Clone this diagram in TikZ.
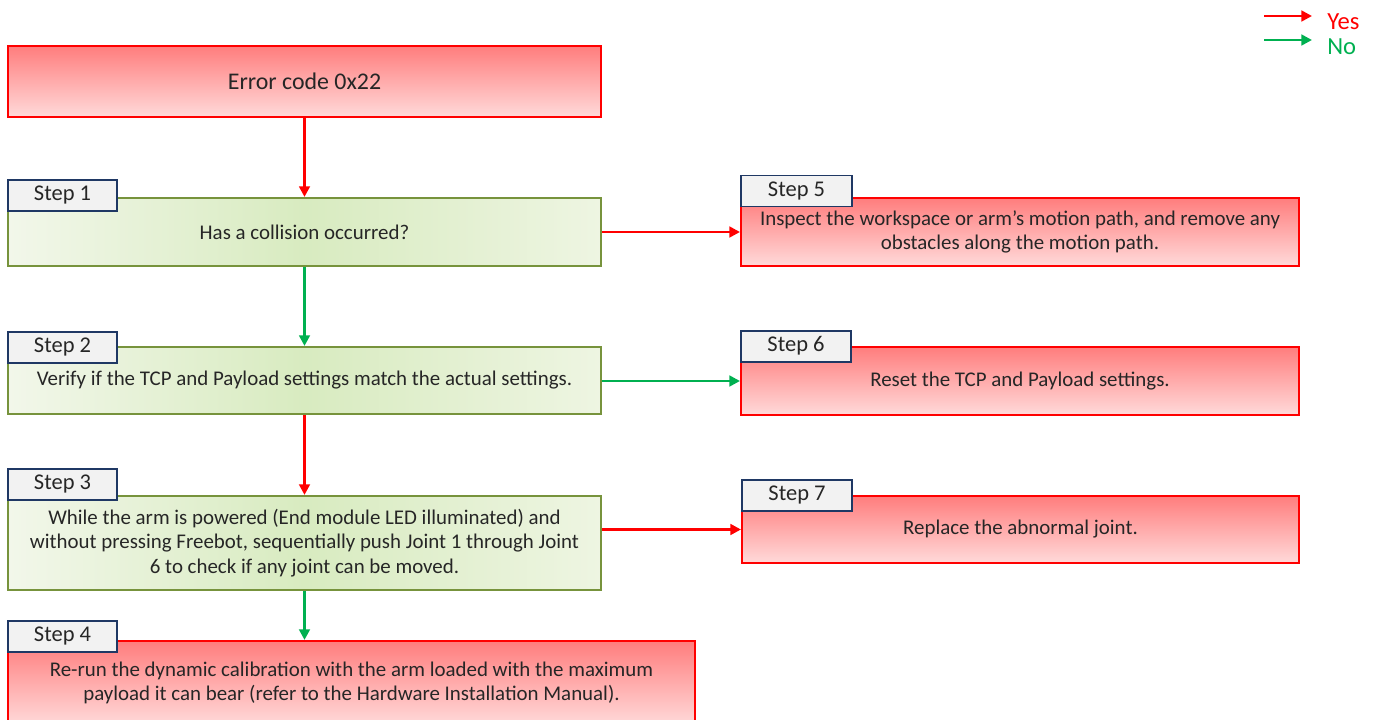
\documentclass[tikz,border=0pt]{standalone}
\usepackage{fontspec}
\setmainfont{Carlito}
\usetikzlibrary{arrows.meta}
\definecolor{yesred}{HTML}{FF0000}
\definecolor{nogreen}{HTML}{00B050}
\definecolor{boxgreen}{HTML}{77933C}
\definecolor{lblblue}{HTML}{1F3864}
\definecolor{txt}{HTML}{262626}
\tikzset{
  redbox/.style={draw=yesred, line width=1.2pt, top color={rgb,255:red,255;green,125;blue,125}, bottom color={rgb,255:red,255;green,218;blue,218}, inner sep=0pt, align=center, text=txt, font=\fontsize{11.9}{14}\selectfont},
  greenbox/.style={draw=boxgreen, line width=1.2pt, left color={rgb,255:red,242;green,247;blue,234}, right color={rgb,255:red,238;green,245;blue,226}, middle color={rgb,255:red,216;green,235;blue,192}, inner sep=0pt, align=center, text=txt, font=\fontsize{11.9}{14}\selectfont},
  steplabel/.style={draw=lblblue, line width=1.1pt, fill={rgb,255:red,242;green,242;blue,242}, inner sep=0pt, text=txt, font=\fontsize{12.8}{14}\selectfont, minimum width=2.18cm, minimum height=0.62cm, text depth=0.5ex},
  yesarrow/.style={draw=yesred, line width=1.5pt, -{Triangle[length=6pt,width=6pt]}},
  noarrow/.style={draw=nogreen, line width=1.5pt, -{Triangle[length=6pt,width=6pt]}},
}
\begin{document}
\begin{tikzpicture}[x=0.02cm,y=-0.02cm]
\useasboundingbox (0,0) rectangle (1374,720);
\clip (0,0) rectangle (1374,720);
% boxes
\node[redbox, minimum width=11.86cm, minimum height=1.42cm, font=\fontsize{13.6}{15}\selectfont] (err) at (304.5,81.5) {Error code 0x22};
\node[greenbox, minimum width=11.86cm, minimum height=1.36cm] (s1) at (304.5,232) {Has a collision occurred?};
\node[redbox, minimum width=11.16cm, minimum height=1.36cm] (s5) at (1020,232) {Inspect the workspace or arm's motion path, and remove any\\obstacles along the motion path.};
\node[greenbox, minimum width=11.86cm, minimum height=1.34cm] (s2) at (304.5,380.5) {Verify if the TCP and Payload settings match the actual settings.};
\node[redbox, minimum width=11.16cm, minimum height=1.36cm] (s6) at (1020,381) {Reset the TCP and Payload settings.};
\node[greenbox, minimum width=11.86cm, minimum height=1.88cm] (s3) at (304.5,543) {While the arm is powered (End module LED illuminated) and\\without pressing Freebot, sequentially push Joint 1 through Joint\\6 to check if any joint can be moved.};
\node[redbox, minimum width=11.14cm, minimum height=1.34cm] (s7) at (1020.5,529.5) {Replace the abnormal joint.};
\node[redbox, minimum width=13.74cm, minimum height=1.68cm] (s4) at (351.5,683) {Re-run the dynamic calibration with the arm loaded with the maximum\\payload it can bear (refer to the Hardware Installation Manual).};
% labels
\node[steplabel] (l1) at (62.5,195.5) {Step 1};
\node[steplabel, minimum width=2.22cm] (l5) at (796.5,191) {Step 5};
\node[steplabel] (l2) at (62.5,347.5) {Step 2};
\node[steplabel, minimum width=2.2cm] (l6) at (796,346.5) {Step 6};
\node[steplabel] (l3) at (62.5,484.5) {Step 3};
\node[steplabel, minimum width=2.2cm] (l7) at (797,495.5) {Step 7};
\node[steplabel] (l4) at (62.5,636.5) {Step 4};
% connectors
\draw[yesarrow] (err.south) -- (s1.north);
\draw[yesarrow] (s1.east) -- (s5.west);
\draw[noarrow] (s1.south) -- (s2.north);
\draw[noarrow] (s6.west -| s2.east) -- (s6.west);
\draw[yesarrow] (s2.south) -- (s3.north);
\draw[yesarrow] (s7.west -| s3.east) -- (s7.west);
\draw[noarrow] (s3.south) -- (s3.south |- s4.north);
% legend
\coordinate (ya) at (1264,16);
\coordinate (yb) at (1312,16);
\coordinate (na) at (1264,40);
\coordinate (nb) at (1312,40);
\draw[yesarrow] (ya) -- (yb);
\draw[noarrow] (na) -- (nb);
\node[text=yesred, font=\fontsize{14}{16}\selectfont, anchor=west, inner sep=0pt] (yes) at (1327,22) {Yes};
\node[text=nogreen, font=\fontsize{14}{16}\selectfont, anchor=west, inner sep=0pt] (no) at (1327,47) {No};
\end{tikzpicture}
\end{document}
